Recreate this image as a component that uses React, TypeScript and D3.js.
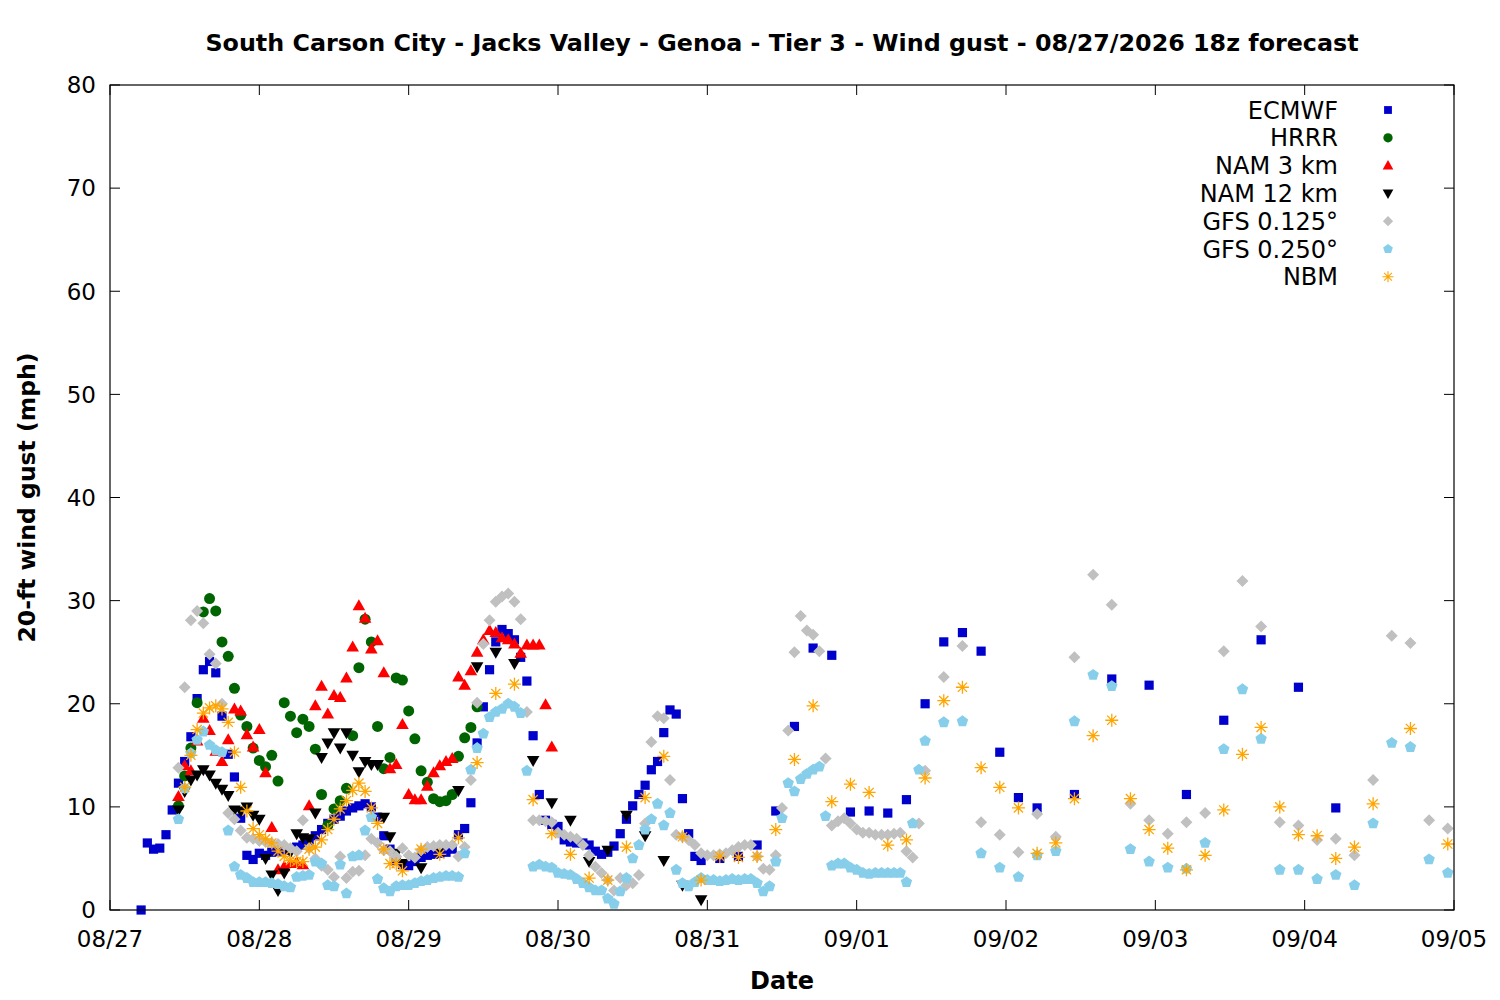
import * as d3 from 'd3';

// Hours are counted from 08/27 00:00; values are wind gust in mph.
const ecmwfHourly = [
  0, 6.5, 5.9, 6.0, 7.3, 9.7, 12.3, 14.4, 16.8, 20.5,
  23.3, 24.1, 23.0, 18.8, 15.1, 12.9, 8.9, 5.3, 4.9, 5.5,
  5.3, 5.6, 5.7, 5.8, 5.9, 6.1, 6.3, 6.6, 7.2, 7.8,
  8.4, 8.8, 9.1, 9.6, 9.9, 10.1, 10.3, 10.0, 9.0, 7.2,
  5.9, 4.8, 4.4, 4.3, 4.7, 5.1, 5.3, 5.4, 5.5, 5.6,
  5.9, 7.3, 7.9, 10.4, 16.2, 19.7, 23.3, 26.0, 27.2, 26.8,
  26.2, 24.5, 22.2, 16.9, 11.2, 8.7, 8.3, 8.1, 6.8, 6.6,
  6.5, 6.5, 6.3, 5.7, 5.4, 5.6, 6.2, 7.4, 8.8, 10.1,
  11.2, 12.1, 13.6, 14.4, 17.2, 19.4, 19.0, 10.8, 7.4, 5.2,
  4.8,
];
const ecmwf3h = [5.0, 5.2, 6.3, 9.6, 17.8, 25.4, 24.7, 9.5, 9.6, 9.4, 10.7, 20.0, 26.0, 26.9, 25.1, 15.3, 10.9, 9.9];
const ecmwf6h = [11.2, 22.4, 21.8, 11.2, 18.4, 26.2, 21.6, 9.9];

const hrrrHourly = [
  10.1, 13.0, 15.7, 20.1, 28.9, 30.2, 29.0, 26.0, 24.6, 21.5,
  18.9, 17.8, 15.7, 14.5, 13.9, 15.0, 12.5, 20.1, 18.8, 17.2,
  18.5, 17.8, 15.6, 11.2, 8.2, 9.8, 10.6, 11.8, 16.9, 23.5,
  28.2, 26.0, 17.8, 13.7, 14.8, 22.5, 22.3, 19.3, 16.6, 13.5,
  12.4, 10.8, 10.5, 10.6, 11.2, 14.9, 16.7, 17.7, 19.7,
];

const nam3Hourly = [
  11.0, 14.0, 13.5, 16.4, 18.6, 17.4, 15.4, 14.4, 16.5, 19.5,
  19.3, 17.0, 15.8, 17.5, 13.3, 8.0, 3.9, 4.2, 4.5, 4.6,
  4.4, 10.1, 19.8, 21.7, 19.0, 20.8, 20.6, 22.5, 25.5, 29.5,
  28.3, 25.3, 26.1, 23.0, 13.7, 14.1, 18.0, 11.2, 10.7, 10.7,
  12.0, 13.3, 14.0, 14.4, 14.7, 22.6, 21.8, 23.2, 25.0, 26.2,
  27.1, 26.9, 26.4, 26.2, 25.8, 24.9, 25.7, 25.7, 25.7, 19.9,
  15.8,
];

const nam12Hourly = [
  9.7, 11.5, 12.6, 13.1, 13.6, 13.1, 12.3, 11.7, 11.1, 9.7,
  9.6, 10.0, 9.2, 8.8, 5.0, 3.4, 1.9, 3.6, 5.6, 7.4,
  7.0, 6.9, 9.4, 14.8, 16.2, 17.2, 15.7, 17.2, 15.0, 13.4,
  14.4, 14.1, 14.1, 9.0, 7.1, 5.5, 4.5,
];
const nam12_3h = [4.1, 6.0, 11.6, 23.6, 25.0, 23.9, 14.5, 10.4, 8.7, 4.7, 5.8, 9.2, 7.2, 4.8, 2.4, 1.0];

const gfs125Hourly = [
  13.8, 21.6, 28.1, 29.0, 27.8, 24.8, 23.9, 20.0, 9.4, 8.8,
  7.7, 7.0, 6.9, 6.7, 6.6, 6.5, 6.4, 6.3, 6.0, 5.7,
  8.7, 6.0, 5.0, 4.3, 3.9, 3.2, 5.2, 3.1, 3.7, 3.8,
  5.3, 6.9, 6.5, 5.8, 5.7, 5.2, 6.0, 5.3, 5.1, 5.8,
  6.1, 6.2, 6.3, 6.3, 6.3, 5.2, 6.1, 12.6, 20.1, 25.8,
  28.1, 29.9, 30.4, 30.7, 29.9, 28.2, 19.2, 8.7, 8.7, 8.6,
  8.5, 7.5, 7.3, 7.1, 6.9, 6.3, 5.3, 4.2, 3.6, 2.9,
  1.9, 3.1, 2.4, 2.6, 3.4, 8.4, 16.3, 18.8, 18.6, 12.6,
  7.3, 7.1, 6.8, 6.3, 5.5, 5.3, 5.3, 5.4, 5.5, 5.8,
  6.1, 6.3, 6.3, 5.2, 4.0, 3.9, 5.3, 9.9, 17.4, 25.0,
  28.5, 27.1, 26.7, 25.1, 14.7, 8.2, 8.6, 8.9, 8.4, 7.8,
  7.5, 7.5, 7.3, 7.3, 7.3, 7.4, 7.5, 5.7, 5.1, 8.4,
  13.5,
];
const gfs125_3h = [
  22.6, 25.6, 8.5, 7.3, 5.6, 9.3, 7.1, 24.5, 32.5, 29.6,
  10.3, 8.7, 7.4, 8.5, 9.4, 25.1, 31.9, 27.5, 8.5, 8.2,
  6.8, 6.9, 5.3, 12.6, 26.6, 25.9, 8.7, 7.9,
];

const gfs250Hourly = [
  8.8, 11.8, 15.2, 16.5, 17.3, 16.0, 15.5, 15.3, 7.7, 4.2,
  3.4, 3.1, 2.7, 2.7, 2.7, 2.6, 2.5, 2.3, 2.2, 3.2,
  3.3, 3.4, 4.7, 4.5, 2.4, 2.3, 4.4, 1.6, 5.2, 5.3,
  7.7, 9.0, 3.0, 2.1, 1.8, 2.3, 2.4, 2.4, 2.6, 2.8,
  2.9, 3.1, 3.2, 3.3, 3.3, 3.2, 5.5, 13.6, 15.7, 17.1,
  18.7, 19.2, 19.5, 20.0, 19.7, 19.1, 13.5, 4.2, 4.4, 4.2,
  4.1, 3.6, 3.5, 3.4, 3.0, 2.6, 2.2, 1.9, 1.9, 1.1,
  0.6, 1.8, 3.1, 5.0, 6.3, 7.8, 8.8, 10.3, 8.2, 9.4,
  3.9, 2.6, 2.3, 2.7, 3.1, 2.9, 2.9, 2.8, 2.9, 3.0,
  2.9, 3.0, 3.0, 2.6, 1.8, 2.3, 4.7, 8.9, 12.3, 11.5,
  12.7, 13.2, 13.6, 13.9, 9.1, 4.3, 4.5, 4.5, 4.1, 3.9,
  3.6, 3.5, 3.6, 3.6, 3.6, 3.6, 3.6, 2.7, 8.4, 13.6,
  16.4,
];
const gfs250_3h = [
  18.2, 18.3, 5.5, 4.1, 3.2, 5.3, 5.7, 18.3, 22.8, 21.7,
  5.9, 4.7, 4.1, 4.0, 6.5, 15.6, 21.4, 16.6, 3.9, 3.9,
  3.0, 3.4, 2.4, 8.4, 16.2, 15.8, 4.9, 3.6,
];

const nbmHourly = [
  11.9, 15.0, 17.5, 19.1, 19.6, 19.8, 19.5, 18.2, 15.3, 11.9,
  9.6, 7.9, 7.3, 6.9, 6.5, 5.7, 5.2, 4.8, 4.7, 4.7,
  5.9, 6.1, 6.8, 7.8, 8.8, 9.8, 10.6, 11.6, 12.3, 11.5,
  9.9, 8.4, 5.9, 4.5, 4.5, 3.8,
];
const nbm3h = [
  5.9, 5.4, 7.0, 14.3, 21.0, 21.9, 10.7, 7.4, 5.4, 3.1,
  2.9, 6.1, 10.9, 14.9, 7.1, 2.9, 5.2, 5.1, 5.2, 7.8,
  14.6, 19.8, 10.5, 12.2, 11.4, 6.3, 6.8, 12.8, 20.3, 21.6,
  13.8, 11.9, 9.9, 5.5, 6.5, 10.8, 16.9, 18.4, 10.8, 7.8,
  6.0, 3.9, 5.3, 9.7, 15.1, 17.7, 10.0, 7.3, 7.2, 5.0,
  6.1,
];
const nbm6h = [10.3, 17.6, 6.4];

const yTicks = [0, 10, 20, 30, 40, 50, 60, 70, 80];

type Pt = { h: number; v: number };
const seg = (start: number, step: number, values: number[]): Pt[] =>
  values.map((v, i) => ({ h: start + i * step, v }));

const pentagon = (() => {
  const r = 6;
  const pts = d3.range(5).map((k) => {
    const a = -Math.PI / 2 + (k * 2 * Math.PI) / 5;
    return `${(r * Math.cos(a)).toFixed(2)},${(r * Math.sin(a)).toFixed(2)}`;
  });
  return `M${pts.join('L')}Z`;
})();

const markers: Record<string, { d: string; fill: string; stroke?: string }> = {
  square: { d: 'M-4.6,-4.6h9.2v9.2h-9.2Z', fill: '#0000cc' },
  circle: { d: 'M5.5,0A5.5,5.5 0 1 1 -5.5,0A5.5,5.5 0 1 1 5.5,0Z', fill: '#006400' },
  triUp: { d: 'M0,-6.5L6.3,4.5L-6.3,4.5Z', fill: '#ff0000' },
  triDown: { d: 'M0,6.5L6.3,-4.5L-6.3,-4.5Z', fill: '#000000' },
  diamond: { d: 'M0,-6L6,0L0,6L-6,0Z', fill: '#c0c0c0' },
  pentagon: { d: pentagon, fill: '#87ceeb' },
  asterisk: {
    d: 'M-6.5,0H6.5M0,-6.5V6.5M-4.6,-4.6L4.6,4.6M-4.6,4.6L4.6,-4.6',
    fill: 'none',
    stroke: '#ffa500',
  },
};

const models = [
  { name: 'ECMWF', marker: 'square', data: [...seg(5, 1, ecmwfHourly), ...seg(98, 3, ecmwf3h), ...seg(155, 6, ecmwf6h)] },
  { name: 'HRRR', marker: 'circle', data: seg(11, 1, hrrrHourly) },
  { name: 'NAM 3 km', marker: 'triUp', data: seg(11, 1, nam3Hourly) },
  { name: 'NAM 12 km', marker: 'triDown', data: [...seg(11, 1, nam12Hourly), ...seg(50, 3, nam12_3h)] },
  { name: 'GFS 0.125°', marker: 'diamond', data: [...seg(11, 1, gfs125Hourly), ...seg(134, 3, gfs125_3h)] },
  { name: 'GFS 0.250°', marker: 'pentagon', data: [...seg(11, 1, gfs250Hourly), ...seg(134, 3, gfs250_3h)] },
  { name: 'NBM', marker: 'asterisk', data: [...seg(12, 1, nbmHourly), ...seg(50, 3, nbm3h), ...seg(203, 6, nbm6h)] },
];

const t0 = Date.UTC(2026, 7, 27);
const toDate = (h: number) => new Date(t0 + h * 3600e3);

export default function App() {
  const width = 1500;
  const height = 1000;
  const margin = { top: 85, right: 46, bottom: 90, left: 110 };
  const innerW = width - margin.left - margin.right;
  const innerH = height - margin.top - margin.bottom;

  const x = d3.scaleUtc().domain([toDate(0), toDate(216)]).range([0, innerW]);
  const y = d3.scaleLinear().domain([0, 80]).range([innerH, 0]);
  const xTicks = x.ticks(d3.utcDay.every(1)!);
  const fmt = d3.utcFormat('%m/%d');
  const font = 'DejaVu Sans, sans-serif';
  const tick = 10;

  return (
    <div style={{ position: 'absolute', left: 0, top: 0 }}>
      <svg width={width} height={height} style={{ display: 'block', background: '#fff' }} fontFamily={font}>
        <text x={margin.left + innerW / 2} y={51} textAnchor="middle" fontSize={23.8} fontWeight="bold">
          South Carson City - Jacks Valley - Genoa - Tier 3 - Wind gust - 08/27/2026 18z forecast
        </text>
        <g transform={`translate(${margin.left},${margin.top})`}>
          {models.map((m) => {
            const mk = markers[m.marker];
            return (
              <g key={m.name}>
                {m.data.map((p, i) => (
                  <path
                    key={i}
                    d={mk.d}
                    transform={`translate(${x(toDate(p.h)).toFixed(2)},${y(p.v).toFixed(2)})`}
                    fill={mk.fill}
                    stroke={mk.stroke ?? 'none'}
                    strokeWidth={mk.stroke ? 1.3 : 0}
                  />
                ))}
              </g>
            );
          })}
          <rect x={0} y={0} width={innerW} height={innerH} fill="none" stroke="#000" strokeWidth={1.2} />
          {yTicks.map((t) => (
            <g key={t}>
              <line x1={0} x2={tick} y1={y(t)} y2={y(t)} stroke="#000" />
              <line x1={innerW - tick} x2={innerW} y1={y(t)} y2={y(t)} stroke="#000" />
              <text x={-14} y={y(t)} dy="0.36em" textAnchor="end" fontSize={23}>
                {t}
              </text>
            </g>
          ))}
          {xTicks.map((t) => (
            <g key={+t}>
              <line x1={x(t)} x2={x(t)} y1={innerH} y2={innerH - tick} stroke="#000" />
              <line x1={x(t)} x2={x(t)} y1={0} y2={tick} stroke="#000" />
              <text x={x(t)} y={innerH + 37} textAnchor="middle" fontSize={23}>
                {fmt(t)}
              </text>
            </g>
          ))}
          <text
            transform={`translate(${-75},${innerH / 2}) rotate(-90)`}
            textAnchor="middle"
            fontSize={23.5}
            fontWeight="bold"
          >
            20-ft wind gust (mph)
          </text>
          <text x={innerW / 2} y={innerH + 79} textAnchor="middle" fontSize={24} fontWeight="bold">
            Date
          </text>
          {models.map((m, i) => {
            const mk = markers[m.marker];
            const ly = 25 + i * 27.8;
            return (
              <g key={m.name} transform={`translate(${innerW - 116},${ly})`}>
                <text x={0} y={0} dy="0.36em" textAnchor="end" fontSize={24}>
                  {m.name}
                </text>
                <path
                  d={mk.d}
                  transform={`translate(50,0) scale(0.85)`}
                  fill={mk.fill}
                  stroke={mk.stroke ?? 'none'}
                  strokeWidth={mk.stroke ? 1.3 : 0}
                />
              </g>
            );
          })}
        </g>
      </svg>
    </div>
  );
}
